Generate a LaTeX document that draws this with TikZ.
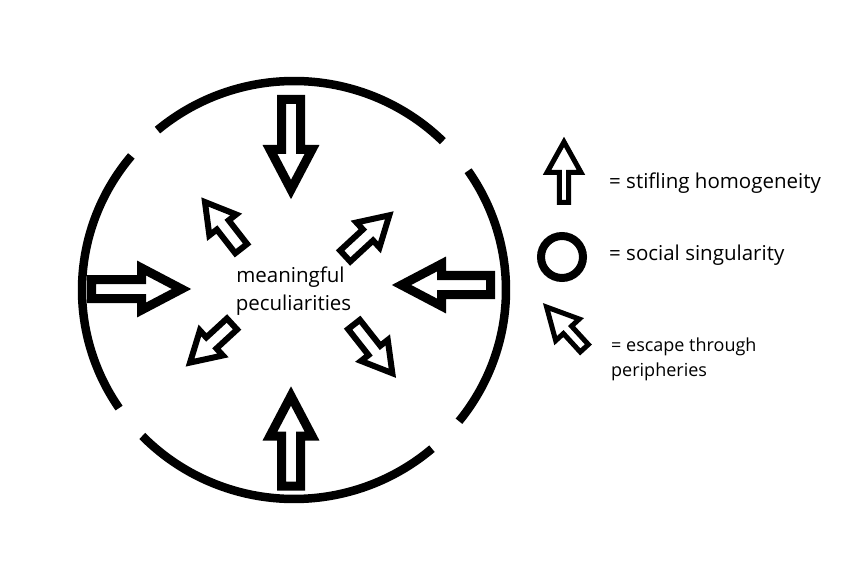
\documentclass[tikz,border=0pt]{standalone}
\usepackage{fontspec}
\setmainfont{Open Sans}
\newcommand{\blockarr}[7]{%
  \begin{scope}[shift={#2}, rotate=#3]
    \draw[#1] (0,-#5) -- ({#4-#7},-#5) -- ({#4-#7},-#6) -- (#4,0)
      -- ({#4-#7},#6) -- ({#4-#7},#5) -- (0,#5) -- cycle;
  \end{scope}}
\begin{document}
\begin{tikzpicture}[x=1pt,y=-1pt,
  ring/.style={line width=8.5pt, line cap=butt},
  bigarr/.style={draw=black, fill=white, line width=9pt, line join=miter, miter limit=20},
  smallarr/.style={draw=black, fill=white, line width=6pt, line join=miter, miter limit=20},
  legarr/.style={draw=black, fill=white, line width=5pt, line join=miter, miter limit=20},
  lbl/.style={inner sep=0pt, font=\fontsize{20.5}{27}\selectfont},
  lblsmall/.style={inner sep=0pt, font=\fontsize{18}{25}\selectfont}]
\useasboundingbox[fill=white] (0,0) rectangle (865,564);

% big inward arrows
\blockarr{bigarr}{(291,99.5)}{-90}{90}{9.5}{21}{40}
\blockarr{bigarr}{(291,486)}{90}{90}{9.5}{21}{40}
\blockarr{bigarr}{(91.5,289)}{0}{90}{9.5}{21}{40}
\blockarr{bigarr}{(490.5,285)}{180}{89}{9.5}{21}{40}

% broken outer ring
\draw[ring] plot[domain=45.4:130.1, samples=80] ({294+212*cos(\x)},{290-209*sin(\x)});
\draw[ring] plot[domain=140.1:214.4, samples=80] ({294+212*cos(\x)},{290-209*sin(\x)});
\draw[ring] plot[domain=224.3:310.6, samples=80] ({294+212*cos(\x)},{290-209*sin(\x)});
\draw[ring] plot[domain=321.1:394.8, samples=80] ({294+212*cos(\x)},{290-209*sin(\x)});

% small outward arrows
\blockarr{smallarr}{(241.2,248.6)}{127.9}{59}{7.5}{17}{29}
\blockarr{smallarr}{(345.2,256)}{42.7}{60}{7.5}{17}{29}
\blockarr{smallarr}{(232,324)}{222.6}{57}{7.5}{17}{29}
\blockarr{smallarr}{(354,324.5)}{-51.8}{62}{7.5}{17}{29}

% centre text
\node[lbl, anchor=base] (m1) at (290.5,283) {meaningful};
\node[lbl, anchor=base] (m2) at (293.5,310) {peculiarities};

% legend
\blockarr{legarr}{(564,202.5)}{90}{60.6}{4.6}{17}{30.6}
\draw[line width=8pt] (562,257) circle[radius=21];
\blockarr{legarr}{(584.3,348.2)}{132.5}{55.8}{5.5}{16}{30.9}

\node[lbl, anchor=base west] (t1) at (609,189) {= stifling homogeneity};
\node[lbl, anchor=base west] (t2) at (609,261) {= social singularity};
\node[lblsmall, anchor=base west] (t3) at (611,351) {= escape through};
\node[lblsmall, anchor=base west] (t4) at (611,376) {peripheries};
\end{tikzpicture}
\end{document}
